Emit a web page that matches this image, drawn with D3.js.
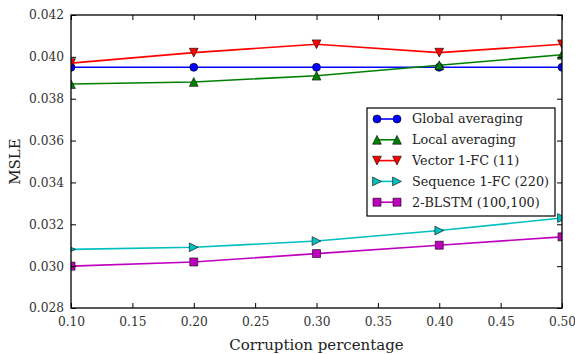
<!DOCTYPE html>
<meta charset="utf-8">
<script src="https://d3js.org/d3.v7.min.js"></script>
<style>
  body { margin: 0; background: #fff; }
</style>
<div id="chart"></div>
<script>

// corruption levels on the x axis
var corruption = [0.10, 0.20, 0.30, 0.40, 0.50];

// MSLE per method
var globalAvg   = [0.0395, 0.0395, 0.0395, 0.0395, 0.0395];
var localAvg    = [0.0387, 0.0388, 0.0391, 0.0396, 0.0401];
var vectorFC    = [0.0397, 0.0402, 0.0406, 0.0402, 0.0406];
var sequenceFC  = [0.0308, 0.0309, 0.0312, 0.0317, 0.0323];
var blstm       = [0.0300, 0.0302, 0.0306, 0.0310, 0.0314];

var seriesNames = ["Global averaging", "Local averaging", "Vector 1-FC (11)",
                   "Sequence 1-FC (220)", "2-BLSTM (100,100)"];

var xTicks = [0.10, 0.15, 0.20, 0.25, 0.30, 0.35, 0.40, 0.45, 0.50];
var yTicks = [0.028, 0.030, 0.032, 0.034, 0.036, 0.038, 0.040, 0.042];

var series = [
  {name: seriesNames[0], values: globalAvg,  color: "#0000ff", marker: "circle"},
  {name: seriesNames[1], values: localAvg,   color: "#008000", marker: "up"},
  {name: seriesNames[2], values: vectorFC,   color: "#ff0000", marker: "down"},
  {name: seriesNames[3], values: sequenceFC, color: "#00bfbf", marker: "right"},
  {name: seriesNames[4], values: blstm,      color: "#bf00bf", marker: "square"}
];

var FONT = "'DejaVu Serif', serif";

var W = 575, H = 354;
var margin = {top: 15, right: 13, bottom: 46, left: 71},
    width = W - margin.left - margin.right,
    height = H - margin.top - margin.bottom;

var svg = d3.select("#chart").append("svg")
    .attr("width", W).attr("height", H)
    .attr("font-family", FONT);

var g = svg.append("g")
    .attr("transform", "translate(" + margin.left + "," + margin.top + ")");

var x = d3.scaleLinear().domain([0.10, 0.50]).range([0, width]);
var y = d3.scaleLinear().domain([0.028, 0.042]).range([height, 0]);

g.append("clipPath").attr("id", "clip")
  .append("rect").attr("width", width).attr("height", height);

// marker shapes, roughly matplotlib's
function markerPath(type, s) {
  var r = s / 2;
  if (type == "circle") return d3.symbol().type(d3.symbolCircle).size(Math.PI * r * r)();
  if (type == "square") return "M" + (-r) + "," + (-r) + "h" + s + "v" + s + "h" + (-s) + "Z";
  var t = r * 1.1;
  if (type == "up")    return "M0," + (-t) + "L" + t + "," + t + "L" + (-t) + "," + t + "Z";
  if (type == "down")  return "M0," + t + "L" + t + "," + (-t) + "L" + (-t) + "," + (-t) + "Z";
  if (type == "right") return "M" + t + ",0L" + (-t) + "," + (-t) + "L" + (-t) + "," + t + "Z";
}

// pick a font size so a sample string comes out at the width seen in the picture
function fitSize(sample, targetWidth, base) {
  var t = svg.append("text").attr("font-size", base).text(sample);
  var w = t.node().getComputedTextLength();
  t.remove();
  return w > 0 ? base * targetWidth / w : base;
}
var tickSize = fitSize("0.042", 35, 12);
var legendSize = fitSize("Global averaging", 111, 12);

var line = d3.line()
  .x(function(d, i) { return x(corruption[i]); })
  .y(function(d) { return y(d); });

var plot = g.append("g").attr("clip-path", "url(#clip)");

series.forEach(function(s) {
  plot.append("path")
    .datum(s.values)
    .attr("fill", "none")
    .attr("stroke", s.color)
    .attr("stroke-width", 1.6)
    .attr("d", line);

  plot.selectAll(null)
    .data(s.values)
    .enter().append("path")
      .attr("transform", function(d, i) { return "translate(" + x(corruption[i]) + "," + y(d) + ")"; })
      .attr("d", markerPath(s.marker, 8))
      .attr("fill", s.color)
      .attr("stroke", "#000")
      .attr("stroke-width", 0.6);
});

// axes: ticks pointing inward on all four sides
function styleAxis(sel) {
  sel.attr("font-family", FONT).attr("font-size", tickSize);
  sel.select(".domain").remove();
  sel.selectAll(".tick line").attr("stroke", "#000").attr("stroke-width", 1);
  sel.selectAll(".tick text").attr("fill", "#333");
}

g.append("g").attr("transform", "translate(0," + height + ")")
  .call(d3.axisBottom(x).tickValues(xTicks).tickFormat(d3.format(".2f")).tickSizeInner(-5).tickPadding(9))
  .call(styleAxis);
g.append("g")
  .call(d3.axisTop(x).tickValues(xTicks).tickFormat("").tickSizeInner(-5))
  .call(styleAxis);
g.append("g")
  .call(d3.axisLeft(y).tickValues(yTicks).tickFormat(d3.format(".3f")).tickSizeInner(-5).tickPadding(7))
  .call(styleAxis);
g.append("g").attr("transform", "translate(" + width + ",0)")
  .call(d3.axisRight(y).tickValues(yTicks).tickFormat("").tickSizeInner(-5))
  .call(styleAxis);

g.append("rect")
  .attr("width", width).attr("height", height)
  .attr("fill", "none").attr("stroke", "#000").attr("stroke-width", 1.3);

// axis labels
svg.append("text")
  .attr("x", margin.left + width / 2).attr("y", 350)
  .attr("text-anchor", "middle")
  .attr("font-size", 15).attr("fill", "#222")
  .text("Corruption percentage");

svg.append("text")
  .attr("transform", "translate(20," + (margin.top + height / 2) + ") rotate(-90)")
  .attr("text-anchor", "middle")
  .attr("font-size", 15).attr("fill", "#222")
  .text("MSLE");

// legend
var legend = svg.append("g").attr("transform", "translate(367,108)");
legend.append("rect")
  .attr("width", 188).attr("height", 108)
  .attr("fill", "#fff").attr("stroke", "#000").attr("stroke-width", 1.2);

var items = legend.selectAll(".item")
  .data(series)
  .enter().append("g")
    .attr("transform", function(d, i) { return "translate(0," + (11 + i * 20.8) + ")"; });

items.append("line")
  .attr("x1", 10).attr("x2", 30)
  .attr("stroke", function(d) { return d.color; })
  .attr("stroke-width", 1.6);

[10, 30].forEach(function(px) {
  items.append("path")
    .attr("transform", "translate(" + px + ",0)")
    .attr("d", function(d) { return markerPath(d.marker, 8); })
    .attr("fill", function(d) { return d.color; })
    .attr("stroke", "#000")
    .attr("stroke-width", 0.6);
});

items.append("text")
  .attr("x", 45).attr("dy", "0.35em")
  .attr("font-size", legendSize)
  .attr("fill", "#222")
  .text(function(d) { return d.name; });

</script>
